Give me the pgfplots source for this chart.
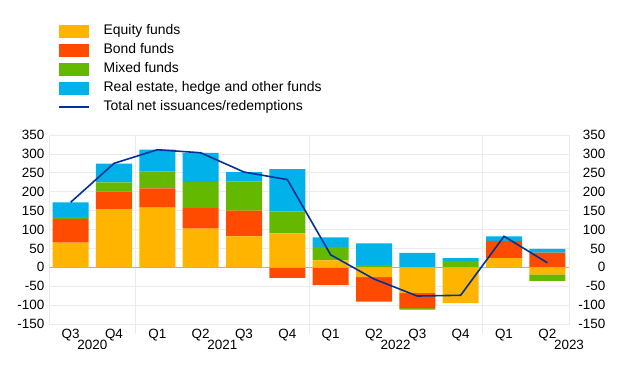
\documentclass[border=0pt]{standalone}
\usepackage{pgfplots}
\usepackage{pgfplotstable}
\pgfplotsset{compat=1.18}
\usepackage{fontspec}
\setmainfont{Liberation Sans}
\definecolor{eqc}{HTML}{FFB400}
\definecolor{bondc}{HTML}{FF4B00}
\definecolor{mixc}{HTML}{65B800}
\definecolor{rec}{HTML}{00B1EA}
\definecolor{linec}{HTML}{003299}
\definecolor{gridc}{HTML}{EBEBEB}
\definecolor{zeroc}{HTML}{B0B0B0}

% positive parts (stacked upward): equity, bond, mixed, real estate
\pgfplotstableread{
x eq bond mixed re
0 65 63 5 39
1 154 46 25 49
2 158 51 44 58
3 102 55 69 77
4 82 68 77 25
5 90 0 58 112
6 18 0 36 25
7 0 0 6 57
8 0 0 0 38
9 0 0 17 7
10 24 46 0 12
11 0 39 0 10
}\postab
% negative parts (stacked downward)
\pgfplotstableread{
x eq bond mixed re
0 0 0 0 0
1 0 0 0 0
2 0 0 0 0
3 0 0 0 0
4 0 0 0 0
5 0 -28 0 0
6 0 -47 0 0
7 -26 -65 0 0
8 -68 -40 -4 0
9 -95 0 0 0
10 0 0 0 0
11 -19 0 -17 0
}\negtab
\pgfplotstableread{
x tot
0 172
1 275
2 311
3 303
4 252
5 232
6 33
7 -31
8 -76
9 -74
10 82
11 12
}\tottab

\pgfplotsset{
  common/.style={width=520bp, height=189bp, scale only axis,
    at={(0,0)}, anchor=south west,
    xmin=-0.5, xmax=11.5, ymin=-150, ymax=350,
    ytick={-150,-100,...,350},
    /pgf/number format/assume math mode=true,
    ticklabel style={font=\fontsize{13.5}{16}\selectfont},
  },
  barimg/.style={legend image code/.code={\fill[#1] (0bp,-6.5bp) rectangle (30bp,6.5bp);}},
  lineimg/.style={legend image code/.code={\draw[#1] (0bp,0bp) -- (30bp,0bp);}},
}

\begin{document}
\fontsize{13.5}{16}\selectfont
\begin{tikzpicture}
\path[use as bounding box] (-49bp,-63bp) rectangle (571bp,324bp);
\begin{axis}[common, ybar stacked, bar width=36bp, clip=false,
  axis line style={gridc},
  ymajorgrids, grid style={gridc, line width=0.8bp},
  xtick={0,...,11},
  xticklabels={Q3,Q4,Q1,Q2,Q3,Q4,Q1,Q2,Q3,Q4,Q1,Q2},
  xtick pos=bottom, ytick pos=left,
  major tick length=0pt,
  extra x ticks={1.5,5.5,9.5}, extra x tick labels={},
  extra x tick style={grid=major, major tick length=10bp, tick align=outside,
     tick style={gridc, line width=0.8bp}, major grid style={gridc, line width=0.8bp}},
  legend style={at={(axis description cs:0.017,1.585)}, anchor=north west,
     draw=none, fill=none, inner sep=0pt, row sep=6bp, column sep=14bp,
     nodes={inner xsep=0bp, inner ysep=0bp, text height=10bp, text depth=3bp},
     font=\fontsize{14}{16}\selectfont},
  legend cell align=left,
]
\addplot[fill=eqc, draw=none, barimg] table[x=x, y=eq] {\postab};
\addlegendentry{Equity funds}
\addplot[fill=bondc, draw=none, barimg] table[x=x, y=bond] {\postab};
\addlegendentry{Bond funds}
\addplot[fill=mixc, draw=none, barimg] table[x=x, y=mixed] {\postab};
\addlegendentry{Mixed funds}
\addplot[fill=rec, draw=none, barimg] table[x=x, y=re] {\postab};
\addlegendentry{Real estate, hedge and other funds}
\addlegendimage{linec, line width=1.6bp, lineimg}
\addlegendentry{Total net issuances/redemptions}
\node at (axis cs:0.5,-150) [yshift=-21bp] {2020};
\node at (axis cs:3.5,-150) [yshift=-21bp] {2021};
\node at (axis cs:7.5,-150) [yshift=-21bp] {2022};
\node at (axis cs:11.5,-150) [yshift=-21bp] {2023};
\end{axis}
\begin{axis}[common, ybar stacked, bar width=36bp, axis lines=none]
\addplot[fill=eqc, draw=none] table[x=x, y=eq] {\negtab};
\addplot[fill=bondc, draw=none] table[x=x, y=bond] {\negtab};
\addplot[fill=mixc, draw=none] table[x=x, y=mixed] {\negtab};
\addplot[fill=rec, draw=none] table[x=x, y=re] {\negtab};
\end{axis}
\begin{axis}[common, axis x line=none, axis y line*=right,
  axis line style={gridc}, major tick length=0pt,
  yticklabel style={anchor=east, xshift=41bp}]
\addplot[zeroc, line width=1.2bp, no marks] coordinates {(-0.5,0) (11.5,0)};
\addplot[linec, line width=1.6bp, no marks] table[x=x, y=tot] {\tottab};
\end{axis}
\end{tikzpicture}
\end{document}
